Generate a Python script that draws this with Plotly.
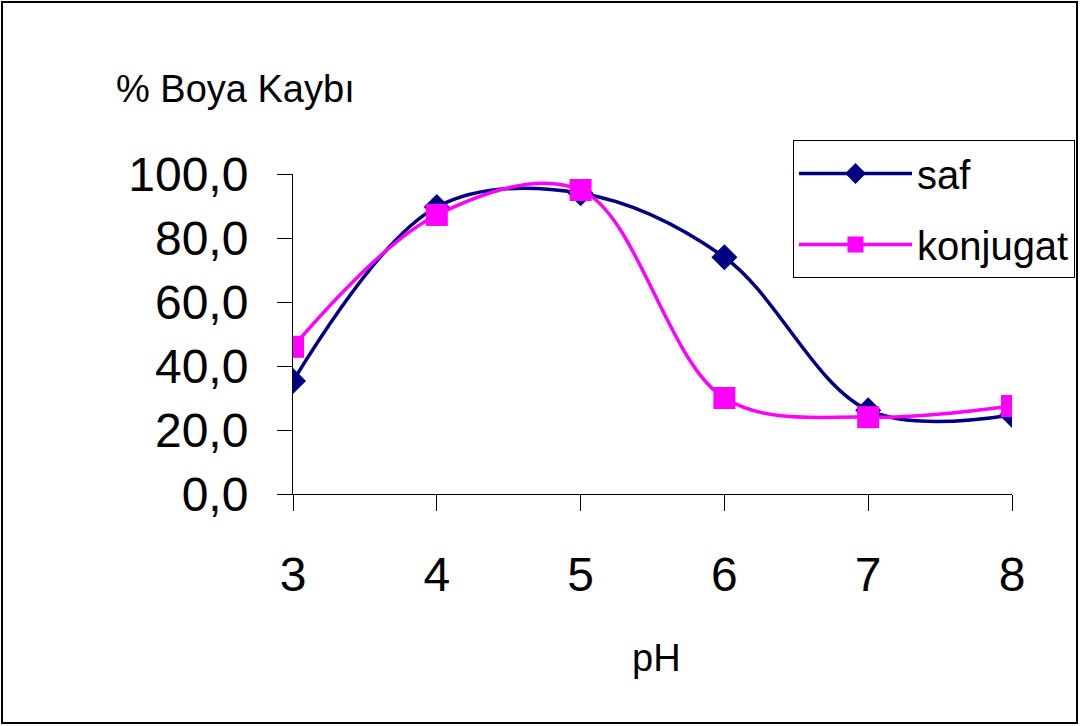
import plotly.graph_objects as go

# pH values and % dye loss for the two samples
ph = [3, 4, 5, 6, 7, 8]
saf = [35.3, 89.7, 94.0, 74.0, 26.2, 24.7]
konjugat = [46.0, 87.2, 95.0, 30.0, 24.0, 27.5]

y_ticks = [0, 20, 40, 60, 80, 100]

FONT = "Arial, Liberation Sans, sans-serif"

W, H = 1081, 726
L, R, T, B = 293, 69, 174, 232
pw, ph_h = W - L - R, H - T - B


def px_x(px):
    return (px - L) / pw


def px_y(py):
    return (H - B - py) / ph_h


fig = go.Figure()
fig.add_trace(go.Scatter(
    x=ph, y=saf, name="saf", mode="lines+markers",
    line=dict(color="#000080", width=3.5, shape="spline", smoothing=1),
    marker=dict(symbol="diamond", size=20, color="#000080"),
    legendgroup="a",
))
fig.add_trace(go.Scatter(
    x=ph, y=konjugat, name="konjugat", mode="lines+markers",
    line=dict(color="#FF00FF", width=3.5, shape="spline", smoothing=1),
    marker=dict(symbol="square", size=22, color="#FF00FF"),
    legendgroup="b",
))

fig.update_layout(
    width=W, height=H,
    margin=dict(l=L, r=R, t=T, b=B, autoexpand=False),
    paper_bgcolor="white", plot_bgcolor="white",
    separators=", ",
    font=dict(family=FONT, color="black"),
    showlegend=True,
    legend=dict(
        x=px_x(793), y=px_y(140), xanchor="left", yanchor="top",
        bordercolor="black", borderwidth=1, bgcolor="white",
        font=dict(size=40, family=FONT), itemwidth=113,
        tracegroupgap=16, itemsizing="trace",
    ),
    xaxis=dict(
        range=[3, 8], tickvals=ph, ticks="outside", ticklen=16, tickwidth=1,
        tickcolor="black", showline=True, linecolor="black", linewidth=1,
        showgrid=False, zeroline=False, tickfont=dict(size=48),
        ticklabelstandoff=22,
    ),
    yaxis=dict(
        range=[0, 100], tickvals=y_ticks, tickformat=".1f", ticks="outside",
        ticklen=15, tickwidth=1, tickcolor="black", showline=True,
        linecolor="black", linewidth=1, showgrid=False, zeroline=False,
        tickfont=dict(size=48), ticklabelstandoff=19,
    ),
    annotations=[
        dict(text="% Boya Kaybı", xref="paper", yref="paper",
             x=px_x(235), y=px_y(89), xanchor="center", yanchor="middle",
             showarrow=False, font=dict(size=38)),
        dict(text="pH", xref="paper", yref="paper",
             x=px_x(656), y=px_y(658), xanchor="center", yanchor="middle",
             showarrow=False, font=dict(size=38)),
    ],
    shapes=[
        dict(type="rect", xref="paper", yref="paper",
             x0=px_x(2), x1=px_x(1077), y0=px_y(723), y1=px_y(2),
             line=dict(color="black", width=2), layer="below"),
    ],
)

fig.write_html("out.html")
